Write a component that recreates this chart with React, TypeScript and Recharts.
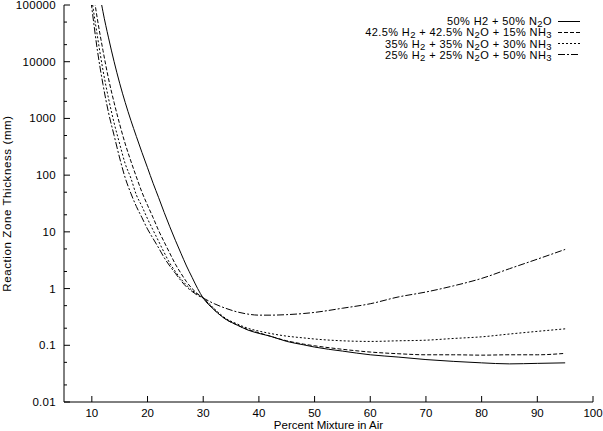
import { LineChart, Line, XAxis, YAxis, Legend, Label } from 'recharts';

const FONT = '"Liberation Sans", Arial, sans-serif';

// percent mixture in air
const mixture = [9, 10, 11, 12, 13, 14, 15, 16, 17, 18, 19, 20, 21, 22, 23, 24, 25, 26, 27, 28, 29, 30,
  32, 34, 36, 38, 40, 42, 45, 48, 50, 55, 60, 65, 70, 75, 80, 85, 90, 95];

// reaction zone thickness (mm)
const h2n2o = [16000000, 2000000, 282000, 76000, 26300, 10000, 4170, 1900, 930, 480, 251, 135, 72, 40, 21.9, 12.3, 7.1, 4.2, 2.5, 1.58, 1.0, 0.68,
  0.42, 0.29, 0.23, 0.186, 0.162, 0.145, 0.117, 0.102, 0.093, 0.079, 0.068, 0.062, 0.056, 0.052, 0.049, 0.047, 0.048, 0.049];
const nh3_15 = [1300000, 251000, 56200, 15800, 5000, 1900, 790, 355, 178, 93, 50, 29.5, 17.8, 10.5, 6.6, 4.2, 2.7, 1.86, 1.32, 1.0, 0.81, 0.68,
  0.42, 0.29, 0.23, 0.19, 0.166, 0.145, 0.12, 0.105, 0.098, 0.085, 0.076, 0.071, 0.068, 0.068, 0.067, 0.068, 0.068, 0.072];
const nh3_30 = [700000, 126000, 28200, 7080, 2240, 832, 355, 158, 89, 44.7, 28.2, 17, 10.7, 6.8, 4.3, 2.8, 2.0, 1.48, 1.15, 0.93, 0.79, 0.68,
  0.44, 0.3, 0.24, 0.2, 0.178, 0.162, 0.145, 0.135, 0.129, 0.12, 0.117, 0.12, 0.123, 0.132, 0.141, 0.158, 0.176, 0.195];
const nh3_50 = [560000, 89000, 15800, 3980, 1260, 500, 200, 89, 48, 28, 17.8, 11.2, 7.6, 5.2, 3.5, 2.5, 1.86, 1.38, 1.07, 0.89, 0.76, 0.68,
  0.54, 0.45, 0.39, 0.355, 0.34, 0.34, 0.347, 0.363, 0.38, 0.45, 0.54, 0.71, 0.87, 1.12, 1.51, 2.24, 3.3, 4.9];

const xTicks = [10, 20, 30, 40, 50, 60, 70, 80, 90, 100];
const yMajor = [0.01, 0.1, 1, 10, 100, 1000, 10000, 100000];
const yMinor = [0.02, 0.05, 0.2, 0.5, 2, 5, 20, 50, 200, 500, 2000, 5000, 20000, 50000];

const data = mixture.map((x, i) => ({
  x,
  a: h2n2o[i],
  b: nh3_15[i],
  c: nh3_30[i],
  d: nh3_50[i],
}));

const series = [
  { key: 'a', dash: undefined, parts: [['50% H2 + 50% N'], ['2', true], ['O']] },
  { key: 'b', dash: '4 2', parts: [['42.5% H'], ['2', true], [' + 42.5% N'], ['2', true], ['O + 15% NH'], ['3', true]] },
  { key: 'c', dash: '2 2', parts: [['35% H'], ['2', true], [' + 35% N'], ['2', true], ['O + 30% NH'], ['3', true]] },
  { key: 'd', dash: '7 2 2 2', parts: [['25% H'], ['2', true], [' + 25% N'], ['2', true], ['O + 50% NH'], ['3', true]] },
];

const textStyle = { fontFamily: FONT, fontSize: 11.5, fill: '#000' };

function YTick(props: any) {
  const { x, y, payload, side } = props;
  const major = yMajor.includes(payload.value);
  const len = major ? 6 : 3;
  const dir = side === 'right' ? -1 : 1;
  return (
    <g>
      <line x1={x} x2={x + dir * len} y1={y} y2={y} stroke="#000" />
      {major && side !== 'right' && (
        <text x={x - 8} y={y} dy="0.35em" textAnchor="end" style={{ ...textStyle, letterSpacing: 0.3 }}>
          {String(payload.value)}
        </text>
      )}
    </g>
  );
}

function XTick(props: any) {
  const { x, y, payload, side } = props;
  const dir = side === 'top' ? 1 : -1;
  return (
    <g>
      <line x1={x} x2={x} y1={y} y2={y + dir * 6} stroke="#000" />
      {side !== 'top' && (
        <text x={x} y={y + 11} dy="0.35em" textAnchor="middle" style={textStyle}>
          {payload.value}
        </text>
      )}
    </g>
  );
}

function LegendBox() {
  return (
    <div style={{ fontFamily: FONT, fontSize: 11, letterSpacing: 0.4, color: '#000' }}>
      {series.map((s) => (
        <div key={s.key} style={{ display: 'flex', justifyContent: 'flex-end', alignItems: 'center', height: 11.2 }}>
          <span style={{ whiteSpace: 'pre', lineHeight: '10px' }}>
            {s.parts.map((p, i) =>
              p[1] ? (
                <span key={i} style={{ position: 'relative', top: 2, fontSize: 9.5, lineHeight: '8px' }}>{p[0]}</span>
              ) : (
                <span key={i}>{p[0]}</span>
              )
            )}
          </span>
          <svg width={22} height={11} style={{ marginLeft: 6 }}>
            <line x1={0} x2={22} y1={5.5} y2={5.5} stroke="#000" strokeDasharray={s.dash} />
          </svg>
        </div>
      ))}
    </div>
  );
}

export default function App() {
  return (
    <div style={{ position: 'absolute', left: 0, top: 0, background: '#fff' }}>
      <LineChart width={603} height={431} data={data} margin={{ top: 5, right: 10, bottom: 0, left: 0 }}>
        <XAxis
          type="number"
          dataKey="x"
          domain={[5, 100]}
          ticks={xTicks}
          interval={0}
          allowDataOverflow
          height={29}
          tickSize={0}
          tickMargin={0}
          tickLine={false}
          axisLine={{ stroke: '#000' }}
          tick={<XTick side="bottom" />}
        >
          <Label
            content={() => (
              <text x={328.5} y={425} dy="0.35em" textAnchor="middle" style={textStyle}>
                Percent Mixture in Air
              </text>
            )}
          />
        </XAxis>
        <XAxis
          xAxisId="top"
          orientation="top"
          type="number"
          dataKey="x"
          domain={[5, 100]}
          ticks={xTicks}
          interval={0}
          allowDataOverflow
          height={0}
          tickSize={0}
          tickMargin={0}
          tickLine={false}
          axisLine={{ stroke: '#000' }}
          tick={<XTick side="top" />}
        />
        <YAxis
          scale="log"
          type="number"
          domain={[0.01, 100000]}
          ticks={[...yMajor, ...yMinor]}
          interval={0}
          allowDataOverflow
          width={64}
          tickSize={0}
          tickMargin={0}
          tickLine={false}
          axisLine={{ stroke: '#000' }}
          tick={<YTick side="left" />}
        >
          <Label
            content={() => (
              <text
                x={7}
                y={203.5}
                dy="0.35em"
                textAnchor="middle"
                transform="rotate(-90, 7, 203.5)"
                style={{ ...textStyle, letterSpacing: 0.6 }}
              >
                Reaction Zone Thickness (mm)
              </text>
            )}
          />
        </YAxis>
        <YAxis
          yAxisId="right"
          orientation="right"
          scale="log"
          type="number"
          domain={[0.01, 100000]}
          ticks={[...yMajor, ...yMinor]}
          interval={0}
          allowDataOverflow
          width={0}
          tickSize={0}
          tickMargin={0}
          tickLine={false}
          axisLine={{ stroke: '#000' }}
          tick={<YTick side="right" />}
        />
        <Legend
          layout="vertical"
          align="center"
          verticalAlign="middle"
          content={<LegendBox />}
          wrapperStyle={{ left: 280, top: 15.6, width: 300, height: 45 }}
        />
        {series.map((s) => (
          <Line
            key={s.key}
            dataKey={s.key}
            type="monotone"
            stroke="#000"
            strokeWidth={1}
            strokeDasharray={s.dash}
            dot={false}
            activeDot={false}
            isAnimationActive={false}
          />
        ))}
      </LineChart>
    </div>
  );
}
